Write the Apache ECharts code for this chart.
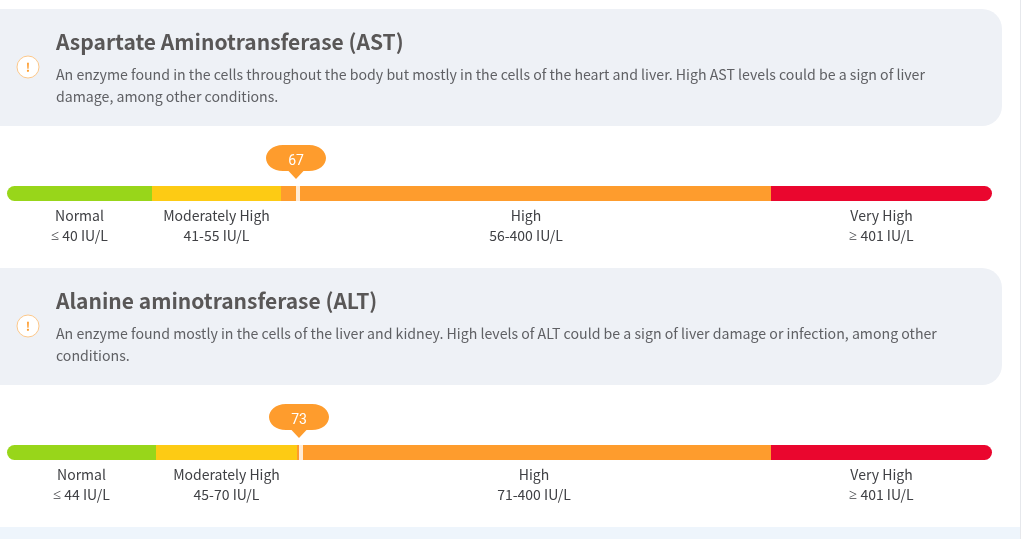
<!DOCTYPE html>
<html><head><meta charset="utf-8">
<style>html,body{margin:0;padding:0;background:#fff}#c{width:1024px;height:539px}</style>
<script src="https://cdn.jsdelivr.net/npm/echarts@6/dist/echarts.min.js"></script>
</head><body><div id="c"></div>
<script>
const bandNames = ['Normal','Moderately High','High','Very High'];
const bandColors = ['#98d61a','#fdcb14','#fe9c2d','#ea062e'];
const astRanges = ['≤ 40 IU/L','41-55 IU/L','56-400 IU/L','≥ 401 IU/L'];
const altRanges = ['≤ 44 IU/L','45-70 IU/L','71-400 IU/L','≥ 401 IU/L'];
// Band widths as drawn on the (non-linear) track
const astWidths = [145,129,490,221];
const altWidths = [149,141,474,221];
const astValue = 67, altValue = 73;
const astMarker = 289, altMarker = 292;
const trackLength = 985;
const astTitle = 'Aspartate Aminotransferase (AST)';
const altTitle = 'Alanine aminotransferase (ALT)';
const astBody = ['An enzyme found in the cells throughout the body but mostly in the cells of the heart and liver. High AST levels could be a sign of liver','damage, among other conditions.'];
const altBody = ['An enzyme found mostly in the cells of the liver and kidney. High levels of ALT could be a sign of liver damage or infection, among other','conditions.'];

const FONT = '"Noto Sans CJK JP","Noto Sans",sans-serif';
const bubble = 'path://M17 0H43C54 0 60 7 60 13C60 20 53 26 43 26H37.5L30 34L22.5 26H17C7 26 0 20 0 13C0 7 6 0 17 0Z';
const chart = echarts.init(document.getElementById('c'),null,{renderer:'canvas'});

function panel(top,title,body){
  return [
    {type:'rect',shape:{x:-22,y:top,width:1024,height:117,r:20},style:{fill:'#eef1f6'},z:0},
    {type:'circle',shape:{cx:28,cy:top+58,r:11},style:{fill:'#fff',stroke:'#fdc88a',lineWidth:1},z:1},
    {type:'text',x:28,y:top+58,style:{text:'!',font:'bold 12px '+FONT,fill:'#fe9c2d',align:'center',verticalAlign:'middle'},z:2},
    {type:'text',x:56,y:top+33,style:{text:title,font:'bold 21px '+FONT,fill:'#595757',verticalAlign:'middle'},z:2},
    {type:'text',x:56,y:top+66,style:{text:body[0],font:'14.15px '+FONT,fill:'#5f6064',verticalAlign:'middle'},z:2},
    {type:'text',x:56,y:top+88,style:{text:body[1],font:'14.15px '+FONT,fill:'#5f6064',verticalAlign:'middle'},z:2}
  ];
}
function bandSeries(idx,widths,ranges){
  return widths.map((w,i)=>({
    type:'bar',stack:'s'+idx,xAxisIndex:idx,yAxisIndex:idx,barWidth:15,name:bandNames[i]+idx,
    data:[w],
    itemStyle:{color:bandColors[i],borderRadius:i===0?[8,0,0,8]:i===widths.length-1?[0,8,8,0]:0},
    label:{show:true,position:'bottom',distance:5,fontFamily:FONT,fontSize:14,lineHeight:20,color:'#3f4044',align:'center',
      formatter:bandNames[i]+'\n'+ranges[i].replace(/[≤≥]/,'{s|$&}'),
      rich:{s:{fontFamily:'"Noto Sans"',fontSize:14.5,lineHeight:20,color:'#3f4044'}}}
  }));
}
function markerSeries(idx,pos,value){
  return [
    {type:'scatter',xAxisIndex:idx,yAxisIndex:idx,data:[[pos,0]],symbol:'rect',symbolSize:[4,15],symbolOffset:[2,0],
      itemStyle:{color:'#fff'},z:5},
    {type:'scatter',xAxisIndex:idx,yAxisIndex:idx,data:[{value:[pos,0]}],symbol:bubble,symbolSize:[60,34],symbolOffset:[0,-31.5],
      itemStyle:{color:'#fe9c2d',opacity:1},z:6,
      label:{show:true,position:'inside',offset:[0,-1],color:'#fff',fontFamily:'Roboto,'+FONT,fontSize:14,formatter:()=>String(value)}}
  ];
}
const axesX=[0,1].map(i=>({gridIndex:i,type:'value',min:0,max:trackLength,show:false}));
const axesY=[0,1].map(i=>({gridIndex:i,type:'category',data:['x'],show:false}));
chart.setOption({
  animation:false,
  textStyle:{fontFamily:FONT},
  grid:[{left:7,width:trackLength,top:186,height:15},{left:7,width:trackLength,top:445,height:15}],
  xAxis:axesX,yAxis:axesY,
  series:[...bandSeries(0,astWidths,astRanges),...bandSeries(1,altWidths,altRanges),
    ...markerSeries(0,astMarker,astValue),...markerSeries(1,altMarker,altValue)],
  graphic:[
    ...panel(9,astTitle,astBody),...panel(268,altTitle,altBody),
    {type:'rect',shape:{x:0,y:527,width:1020,height:12},style:{fill:'#eef5fc'},z:0},
    {type:'rect',shape:{x:1020,y:0,width:1,height:539},style:{fill:'#e6e8ec'},z:0}
  ]
});
</script></body></html>
